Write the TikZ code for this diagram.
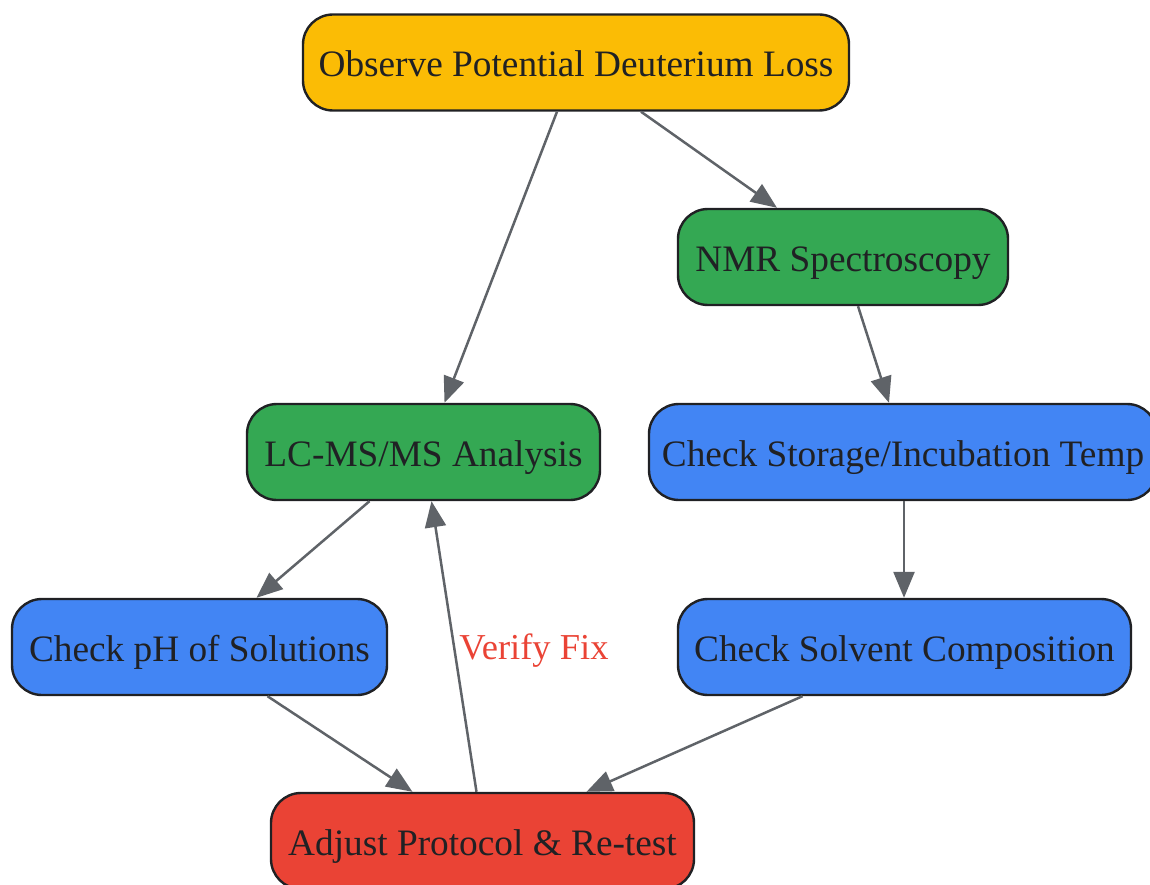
\documentclass[tikz,border=0pt]{standalone}
\usepackage{fontspec}
\setmainfont{Liberation Serif}
\usetikzlibrary{arrows.meta,calc}
\definecolor{cyellow}{HTML}{FBBC05}
\definecolor{cgreen}{HTML}{34A853}
\definecolor{cblue}{HTML}{4285F4}
\definecolor{cred}{HTML}{EA4335}
\definecolor{ctext}{HTML}{202124}
\definecolor{cedge}{HTML}{5F6368}
\tikzset{
  box/.style={draw=ctext, line width=2.4pt, rounded corners=30pt, minimum height=96pt, inner sep=0pt,
    text height=34pt, text depth=6pt,
    text=ctext, font=\fontsize{37.3}{44}\selectfont},
  conn/.style={draw=cedge, line width=2.5pt, -{Triangle[length=26pt,width=21pt]}},
  elabel/.style={text=cred, font=\fontsize{36.5}{43}\selectfont, inner sep=0pt}
}
\begin{document}
\begin{tikzpicture}[x=1pt,y=-1pt]
\useasboundingbox (0,0) rectangle (1150,885);
\node[box, fill=cyellow, minimum width=546pt] (obs) at (576,62.5) {Observe Potential Deuterium Loss};
\node[box, fill=cgreen, minimum width=330pt] (nmr) at (843,257) {NMR Spectroscopy};
\node[box, fill=cgreen, minimum width=353pt] (lcms) at (423.5,452) {LC-MS/MS Analysis};
\node[box, fill=cblue, minimum width=508pt] (stor) at (903,452) {Check Storage/Incubation Temp};
\node[box, fill=cblue, minimum width=375pt] (ph) at (199.5,647) {Check pH of Solutions};
\node[box, fill=cblue, minimum width=453pt] (solv) at (904.5,647) {Check Solvent Composition};
\node[box, fill=cred, minimum width=423pt] (adj) at (482.5,841) {Adjust Protocol \& Re-test};
\draw[conn] ($(obs.south)+(-19,0)$) -- ($(lcms.north)+(21,0)$);
\draw[conn] ($(obs.south)+(65,0)$) -- ($(nmr.north)+(-66,0)$);
\draw[conn] ($(nmr.south)+(15,0)$) -- ($(stor.north)+(-14,0)$);
\draw[conn] ($(stor.south)+(1,0)$) -- ($(solv.north)+(-0.5,0)$);
\draw[conn] ($(lcms.south)+(-54,0)$) -- ($(ph.north)+(57,0)$);
\draw[conn] ($(ph.south)+(68,0)$) -- ($(adj.north)+(-70,0)$);
\draw[conn] ($(solv.south)+(-102,0)$) -- ($(adj.north)+(104,0)$);
\draw[conn] ($(adj.north)+(-6,0)$) -- ($(lcms.south)+(8,0)$);
\node[elabel] (vf) at (534,651) {Verify Fix};
\end{tikzpicture}
\end{document}
